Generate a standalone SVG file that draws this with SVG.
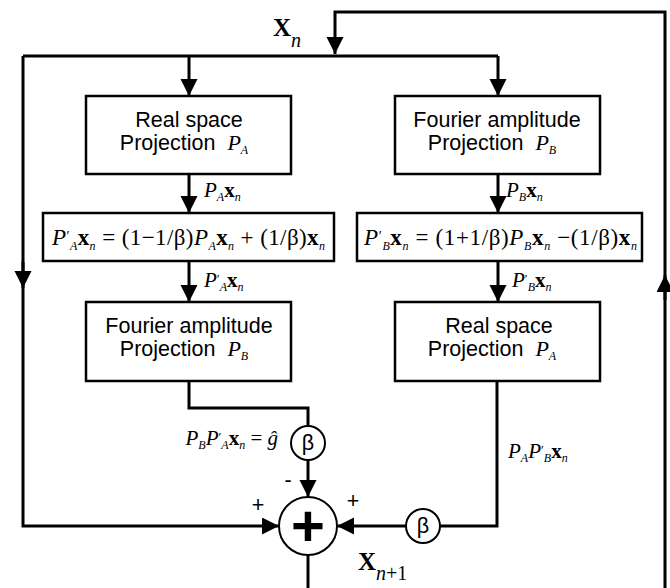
<svg xmlns="http://www.w3.org/2000/svg" width="670" height="588" viewBox="0 0 670 588">
<defs>
<style>
.ln{fill:none;stroke:#000;stroke-width:3;}
.box{fill:#fff;stroke:#000;stroke-width:2.5;}
.circ{fill:#fff;stroke:#000;stroke-width:2;}
.s{font-family:"Liberation Sans",Arial,sans-serif;font-size:21.5px;fill:#000;}
.m{font-family:"Liberation Serif","Times New Roman",serif;fill:#000;}
.i{font-style:italic;}
.b{font-weight:bold;}
.sub{font-style:italic;font-size:12px;}
</style>
<marker id="ah" markerUnits="userSpaceOnUse" markerWidth="18" markerHeight="18" refX="17" refY="8.5" orient="auto">
<path d="M0,0 L17,8.5 L0,17 z" fill="#000"/>
</marker>
</defs>
<rect width="670" height="588" fill="#fff"/>
<g id="connectors">
<path class="ln" d="M665,588 V12 H335 V54" marker-end="url(#ah)"/>
<path class="ln" d="M23,56 H498"/>
<path class="ln" d="M23,56 V526 H279" marker-end="url(#ah)"/>
<path class="ln" d="M23,262 V288" marker-end="url(#ah)"/>
<path class="ln" d="M665,300 V275" marker-end="url(#ah)"/>
<path class="ln" d="M189,56 V96" marker-end="url(#ah)"/>
<path class="ln" d="M498,56 V96" marker-end="url(#ah)"/>
<path class="ln" d="M189,174 V213" marker-end="url(#ah)"/>
<path class="ln" d="M498,174 V213" marker-end="url(#ah)"/>
<path class="ln" d="M189,261 V302" marker-end="url(#ah)"/>
<path class="ln" d="M498,261 V302" marker-end="url(#ah)"/>
<path class="ln" d="M189,381 V408 H308 V426"/>
<path class="ln" d="M308,460 V497" marker-end="url(#ah)"/>
<path class="ln" d="M497,381 V526 H440"/>
<path class="ln" d="M406,526 H337" marker-end="url(#ah)"/>
<path class="ln" d="M308,555 V588"/>
</g>
<g id="label-xn">
<text class="m" x="273" y="36"><tspan class="b" font-size="25">X</tspan><tspan class="i" font-size="20" dy="11">n</tspan></text>
</g>
<g id="box-realspace-top">
<rect class="box" x="86" y="96" width="205" height="78"/>
<text class="s" x="189" y="127" text-anchor="middle">Real space</text>
<text class="s" x="184" y="150" text-anchor="middle">Projection&#160; <tspan class="m i" font-size="22">P</tspan><tspan class="m sub" font-size="11" dy="4">A</tspan></text>
</g>
<g id="box-fourier-top">
<rect class="box" x="395" y="96" width="205" height="78"/>
<text class="s" x="497" y="127" text-anchor="middle">Fourier amplitude</text>
<text class="s" x="492" y="150" text-anchor="middle">Projection&#160; <tspan class="m i" font-size="22">P</tspan><tspan class="m sub" font-size="11" dy="4">B</tspan></text>
</g>
<g id="label-pa-xn">
<text class="m" x="204" y="197" font-size="21"><tspan class="i">P</tspan><tspan class="sub" font-size="11" dy="4">A</tspan><tspan class="b" dy="-4">x</tspan><tspan class="sub" dy="4">n</tspan></text>
</g>
<g id="label-pb-xn">
<text class="m" x="506" y="197" font-size="21"><tspan class="i">P</tspan><tspan class="sub" font-size="11" dy="4">B</tspan><tspan class="b" dy="-4">x</tspan><tspan class="sub" dy="4">n</tspan></text>
</g>
<g id="box-formula-a">
<rect class="box" x="43" y="213" width="291" height="48"/>
<text class="m" x="52" y="245" font-size="23" textLength="273" lengthAdjust="spacing"><tspan class="i">P</tspan><tspan font-size="14" dy="-4">′</tspan><tspan class="sub" dy="9">A</tspan><tspan class="b" dy="-5">x</tspan><tspan class="sub" dy="5">n</tspan><tspan dy="-5"> = (1−1/β)</tspan><tspan class="i">P</tspan><tspan class="sub" dy="5">A</tspan><tspan class="b" dy="-5">x</tspan><tspan class="sub" dy="5">n</tspan><tspan dy="-5"> + (1/β)</tspan><tspan class="b">x</tspan><tspan class="sub" dy="5">n</tspan></text>
</g>
<g id="box-formula-b">
<rect class="box" x="357" y="213" width="285" height="48"/>
<text class="m" x="364" y="245" font-size="23" textLength="273" lengthAdjust="spacing"><tspan class="i">P</tspan><tspan font-size="14" dy="-4">′</tspan><tspan class="sub" dy="9">B</tspan><tspan class="b" dy="-5">x</tspan><tspan class="sub" dy="5">n</tspan><tspan dy="-5"> = (1+1/β)</tspan><tspan class="i">P</tspan><tspan class="sub" dy="5">B</tspan><tspan class="b" dy="-5">x</tspan><tspan class="sub" dy="5">n</tspan><tspan dy="-5"> −(1/β)</tspan><tspan class="b">x</tspan><tspan class="sub" dy="5">n</tspan></text>
</g>
<g id="label-pa-prime-xn">
<text class="m" x="204" y="287" font-size="21"><tspan class="i">P</tspan><tspan font-size="13" dy="-4">′</tspan><tspan class="sub" font-size="11" dy="8">A</tspan><tspan class="b" dy="-4">x</tspan><tspan class="sub" dy="4">n</tspan></text>
</g>
<g id="label-pb-prime-xn">
<text class="m" x="512" y="287" font-size="21"><tspan class="i">P</tspan><tspan font-size="13" dy="-4">′</tspan><tspan class="sub" font-size="11" dy="8">B</tspan><tspan class="b" dy="-4">x</tspan><tspan class="sub" dy="4">n</tspan></text>
</g>
<g id="box-fourier-bottom">
<rect class="box" x="86" y="302" width="205" height="79"/>
<text class="s" x="189" y="333" text-anchor="middle">Fourier amplitude</text>
<text class="s" x="184" y="356" text-anchor="middle">Projection&#160; <tspan class="m i" font-size="22">P</tspan><tspan class="m sub" font-size="11" dy="4">B</tspan></text>
</g>
<g id="box-realspace-bottom">
<rect class="box" x="395" y="302" width="205" height="79"/>
<text class="s" x="499" y="333" text-anchor="middle">Real space</text>
<text class="s" x="492" y="356" text-anchor="middle">Projection&#160; <tspan class="m i" font-size="22">P</tspan><tspan class="m sub" font-size="11" dy="4">A</tspan></text>
</g>
<g id="label-g-hat">
<text class="m" x="278" y="445" font-size="21" text-anchor="end"><tspan class="i">P</tspan><tspan class="sub" font-size="11" dy="4">B</tspan><tspan class="i" dy="-4">P</tspan><tspan font-size="13" dy="-4">′</tspan><tspan class="sub" font-size="11" dy="8">A</tspan><tspan class="b" dy="-4">x</tspan><tspan class="sub" dy="4">n</tspan><tspan dy="-4"> = </tspan><tspan class="i">ĝ</tspan></text>
</g>
<g id="label-pa-pb-xn">
<text class="m" x="508" y="458" font-size="21"><tspan class="i">P</tspan><tspan class="sub" font-size="11" dy="4">A</tspan><tspan class="i" dy="-4">P</tspan><tspan font-size="13" dy="-4">′</tspan><tspan class="sub" font-size="11" dy="8">B</tspan><tspan class="b" dy="-4">x</tspan><tspan class="sub" dy="4">n</tspan></text>
</g>
<g id="beta-top">
<circle class="circ" cx="308" cy="443" r="17"/>
<text class="s" x="308" y="450" font-size="20" text-anchor="middle">β</text>
</g>
<g id="beta-right">
<circle class="circ" cx="423" cy="526" r="17"/>
<text class="s" x="423" y="533" font-size="20" text-anchor="middle">β</text>
</g>
<g id="sum">
<circle class="circ" cx="308" cy="526" r="29"/>
<text x="308" y="546" font-family="Liberation Sans, Arial, sans-serif" font-weight="bold" font-size="58" text-anchor="middle">+</text>
</g>
<g id="signs">
<text class="s" x="288" y="487" font-size="18" text-anchor="middle">-</text>
<text class="s" x="258" y="512" font-size="16" text-anchor="middle">+</text>
<text class="s" x="353" y="508" font-size="16" text-anchor="middle">+</text>
</g>
<g id="label-xn1">
<text class="m" x="358" y="570"><tspan class="b" font-size="25">X</tspan><tspan class="i" font-size="20" dy="10">n</tspan><tspan font-size="20">+1</tspan></text>
</g>
</svg>
